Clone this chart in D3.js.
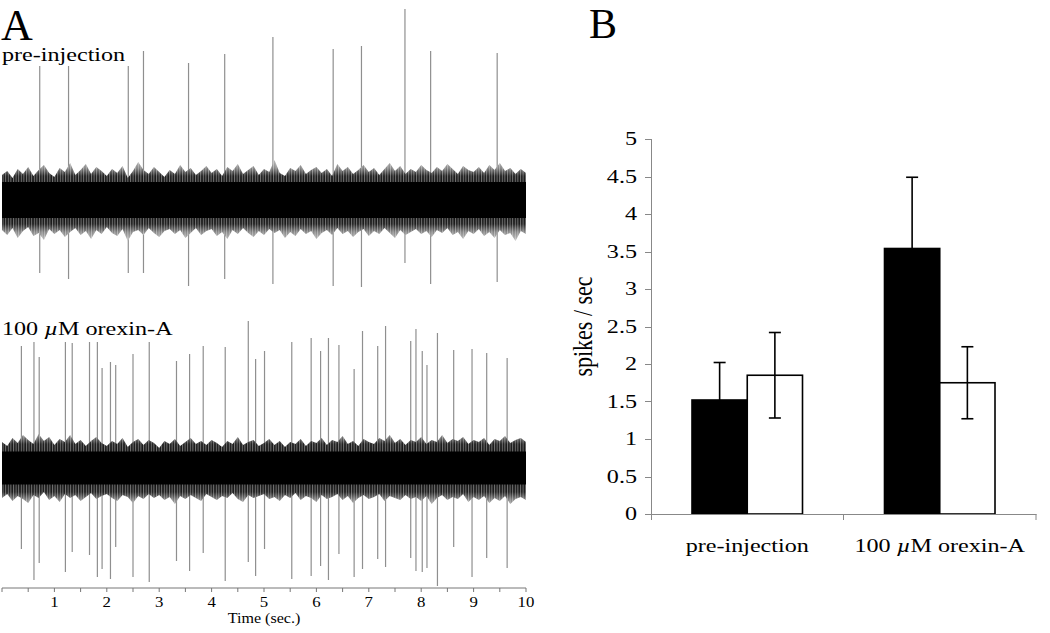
<!DOCTYPE html>
<html><head><meta charset="utf-8">
<script src="https://cdn.jsdelivr.net/npm/d3@7"></script>
<style>
body{margin:0;background:#fff}
svg{display:block}
text{font-family:"Liberation Serif","Times New Roman",serif;fill:#000}
</style>
</head><body>
<svg id="c" width="1050" height="633"></svg>
<script>
// ---------- Panel A data (time in s, amplitude in arbitrary units) ----------
const traceLabels = ["pre-injection", "100 µM orexin-A"];
const spikeTimesPre = [0.72,1.27,2.41,2.70,3.56,4.25,5.17,6.32,6.86,7.69,8.18,9.45];
const spikeUpPre    = [1.34,1.34,1.34,1.49,1.37,1.46,1.63,1.51,1.54,1.91,1.49,1.47];
const spikeDownPre  = [-0.73,-0.79,-0.73,-0.73,-0.86,-0.79,-0.84,-0.86,-0.87,-0.63,-0.84,-0.82];

const spikeTimesOrx = [0.37,0.61,0.71,1.21,1.34,1.67,1.82,1.91,2.07,2.17,2.50,2.81,3.33,3.58,3.84,4.26,4.70,4.84,5.01,5.53,5.90,6.08,6.23,6.43,6.72,6.88,7.17,7.32,7.80,7.90,8.02,8.11,8.31,8.62,8.97,9.25,9.64];
const spikeUpOrx    = [1.22,1.26,1.11,1.26,1.25,1.26,1.26,1.00,1.06,1.03,1.14,1.26,1.07,1.14,1.22,1.21,1.47,1.09,1.17,1.26,1.30,1.17,1.30,1.23,0.99,1.37,1.22,1.42,1.27,1.39,1.17,1.03,1.35,1.18,1.19,1.15,1.10];
const spikeDownOrx  = [-0.81,-1.12,-0.95,-1.04,-0.84,-0.87,-1.09,-1.01,-1.11,-0.79,-1.09,-1.14,-0.93,-1.03,-0.85,-1.13,-0.94,-1.08,-0.81,-1.11,-1.08,-0.98,-1.12,-0.86,-1.09,-1.01,-0.91,-0.99,-0.90,-1.03,-1.04,-1.00,-1.18,-0.79,-1.09,-0.90,-1.00];

// background-noise envelope, sampled every 0.1 s
const noiseTimes = [0,0.1,0.2,0.3,0.4,0.5,0.6,0.7,0.8,0.9,1,1.1,1.2,1.3,1.4,1.5,1.6,1.7,1.8,1.9,2,2.1,2.2,2.3,2.4,2.5,2.6,2.7,2.8,2.9,3,3.1,3.2,3.3,3.4,3.5,3.6,3.7,3.8,3.9,4,4.1,4.2,4.3,4.4,4.5,4.6,4.7,4.8,4.9,5,5.1,5.2,5.3,5.4,5.5,5.6,5.7,5.8,5.9,6,6.1,6.2,6.3,6.4,6.5,6.6,6.7,6.8,6.9,7,7.1,7.2,7.3,7.4,7.5,7.6,7.7,7.8,7.9,8,8.1,8.2,8.3,8.4,8.5,8.6,8.7,8.8,8.9,9,9.1,9.2,9.3,9.4,9.5,9.6,9.7,9.8,9.9,10];
const noiseUpPre = [0.25,0.29,0.22,0.31,0.26,0.33,0.24,0.30,0.35,0.27,0.23,0.32,0.28,0.37,0.25,0.30,0.36,0.26,0.33,0.29,0.24,0.31,0.27,0.34,0.22,0.29,0.38,0.30,0.26,0.33,0.28,0.23,0.30,0.26,0.35,0.28,0.32,0.25,0.29,0.34,0.27,0.31,0.24,0.33,0.29,0.36,0.26,0.30,0.34,0.25,0.31,0.28,0.40,0.27,0.24,0.32,0.29,0.35,0.26,0.30,0.33,0.27,0.31,0.24,0.36,0.29,0.33,0.26,0.30,0.35,0.28,0.32,0.25,0.31,0.37,0.29,0.34,0.26,0.31,0.28,0.35,0.30,0.27,0.33,0.29,0.36,0.31,0.26,0.34,0.30,0.28,0.33,0.27,0.35,0.30,0.37,0.29,0.32,0.26,0.31,0.27];
const noiseDownPre = [0.30,0.35,0.28,0.38,0.31,0.27,0.36,0.33,0.40,0.29,0.34,0.30,0.37,0.32,0.28,0.35,0.31,0.39,0.30,0.34,0.27,0.33,0.36,0.29,0.41,0.32,0.30,0.35,0.28,0.33,0.37,0.31,0.29,0.34,0.30,0.38,0.33,0.28,0.35,0.31,0.29,0.36,0.32,0.39,0.30,0.34,0.28,0.33,0.37,0.31,0.35,0.29,0.33,0.30,0.38,0.32,0.36,0.29,0.34,0.31,0.39,0.33,0.30,0.35,0.28,0.34,0.31,0.37,0.32,0.29,0.36,0.31,0.34,0.28,0.33,0.38,0.30,0.35,0.32,0.29,0.34,0.31,0.37,0.30,0.33,0.28,0.35,0.32,0.39,0.31,0.34,0.29,0.36,0.32,0.38,0.30,0.35,0.33,0.41,0.31,0.34];
const noiseUpOrx = [0.26,0.22,0.30,0.25,0.33,0.28,0.24,0.34,0.27,0.31,0.23,0.29,0.26,0.33,0.24,0.28,0.22,0.27,0.31,0.25,0.22,0.27,0.24,0.30,0.21,0.26,0.29,0.23,0.28,0.25,0.20,0.27,0.24,0.29,0.22,0.26,0.30,0.24,0.27,0.23,0.28,0.25,0.21,0.27,0.24,0.31,0.23,0.26,0.28,0.22,0.25,0.29,0.23,0.27,0.21,0.26,0.24,0.29,0.22,0.27,0.25,0.30,0.23,0.28,0.26,0.32,0.24,0.27,0.22,0.29,0.26,0.24,0.30,0.27,0.33,0.25,0.29,0.23,0.28,0.26,0.31,0.24,0.28,0.26,0.33,0.25,0.29,0.27,0.31,0.24,0.28,0.26,0.30,0.23,0.29,0.27,0.32,0.25,0.28,0.30,0.26];
const noiseDownOrx = [0.30,0.26,0.33,0.28,0.31,0.35,0.27,0.30,0.24,0.32,0.28,0.34,0.26,0.30,0.27,0.33,0.29,0.25,0.31,0.28,0.26,0.30,0.33,0.27,0.29,0.35,0.28,0.31,0.26,0.30,0.27,0.32,0.29,0.36,0.28,0.31,0.27,0.30,0.33,0.26,0.29,0.32,0.28,0.30,0.25,0.31,0.34,0.27,0.30,0.28,0.26,0.31,0.29,0.33,0.27,0.30,0.25,0.32,0.28,0.30,0.34,0.27,0.31,0.29,0.26,0.32,0.28,0.35,0.30,0.27,0.31,0.29,0.26,0.33,0.28,0.30,0.32,0.27,0.31,0.29,0.33,0.28,0.36,0.30,0.27,0.32,0.29,0.31,0.26,0.34,0.29,0.32,0.28,0.35,0.30,0.33,0.28,0.36,0.31,0.29,0.32];
const noiseCorePre = 0.18;
const noiseCoreOrx = 0.165;

const timeTicks = [0,0.5,1,1.5,2,2.5,3,3.5,4,4.5,5,5.5,6,6.5,7,7.5,8,8.5,9,9.5,10];
const timeTickLabels = [1,2,3,4,5,6,7,8,9,10];

// ---------- Panel B data ----------
const groups = ["pre-injection", "100 µM orexin-A"];
const seriesKeys = ["filled", "open"];
const filledMeans = [1.52, 3.54];
const filledErr   = [0.50, 0.95];
const openMeans   = [1.85, 1.75];
const openErr     = [0.57, 0.48];
const rateTicks = [0,0.5,1,1.5,2,2.5,3,3.5,4,4.5,5];
const rateTickLabels = ["0","0.5","1","1.5","2","2.5","3","3.5","4","4.5","5"];

// ---------- drawing ----------
const svg = d3.select("#c");
const SX = 1.34; // horizontal stretch of the figure's small text

function stext(g, x, y, str, size, anchor, sx) {
  return g.append("text")
    .attr("transform", `translate(${x},${y}) scale(${sx||SX},1)`)
    .attr("font-size", size).attr("text-anchor", anchor || "start")
    .text(str);
}
function orexinLabel(g, x, y, size, anchor) {
  const t = g.append("text")
    .attr("transform", `translate(${x},${y}) scale(${SX},1)`)
    .attr("font-size", size).attr("text-anchor", anchor || "start");
  t.append("tspan").text("100 ");
  t.append("tspan").attr("font-style", "italic").text("µ");
  t.append("tspan").text("M orexin-A");
  return t;
}

// Panel A
const gA = svg.append("g");
const tx = d3.scaleLinear().domain([0, 10]).range([2, 526]);
const yPre = d3.scaleLinear().domain([-1, 1]).range([300, 100]);
const yOrx = d3.scaleLinear().domain([-1, 1]).range([568, 368]);

const defs = svg.append("defs");
const pat = defs.append("pattern").attr("id", "streaks").attr("patternUnits", "userSpaceOnUse")
  .attr("width", 2.6).attr("height", 10);
pat.append("rect").attr("width", 1).attr("height", 10).attr("fill", "#fff").attr("fill-opacity", 0.4);

function makeGrad(id, y) {
  const gr = defs.append("linearGradient").attr("id", id).attr("gradientUnits", "userSpaceOnUse")
    .attr("x1", 0).attr("x2", 0).attr("y1", y(0.42)).attr("y2", y(-0.42));
  const lv = [[0.42, "#c8c8c8"], [0.32, "#858585"], [0.24, "#1c1c1c"], [0, "#000"], [-0.24, "#1c1c1c"], [-0.32, "#858585"], [-0.42, "#c8c8c8"]];
  lv.forEach(([a, c]) => gr.append("stop").attr("offset", (0.42 - a) / 0.84).attr("stop-color", c));
}
makeGrad("gPre", yPre);
makeGrad("gOrx", yOrx);

function drawTrace(y, gradId, times, ups, downs, nUp, nDown, core) {
  const g = gA.append("g");
  g.selectAll("line.spk").data(times).join("line").attr("class", "spk")
    .attr("x1", d => tx(d)).attr("x2", d => tx(d))
    .attr("y1", (d, i) => y(ups[i])).attr("y2", (d, i) => y(downs[i]))
    .attr("stroke", "#8f8f8f").attr("stroke-width", 1.2);
  const area = d3.area().x((d, i) => tx(noiseTimes[i]))
    .y0((d, i) => y(-nDown[i])).y1((d, i) => y(nUp[i]));
  g.append("path").datum(noiseTimes).attr("d", area).attr("fill", `url(#${gradId})`);
  g.append("path").datum(noiseTimes).attr("d", area).attr("fill", "url(#streaks)");
  const coreArea = d3.area().x(d => tx(d)).y0(y(-core)).y1(y(core));
  g.append("path").datum([0, 10]).attr("d", coreArea).attr("fill", "#000");
}
drawTrace(yPre, "gPre", spikeTimesPre, spikeUpPre, spikeDownPre, noiseUpPre, noiseDownPre, noiseCorePre);
drawTrace(yOrx, "gOrx", spikeTimesOrx, spikeUpOrx, spikeDownOrx, noiseUpOrx, noiseDownOrx, noiseCoreOrx);

gA.append("text").attr("x", 1).attr("y", 39.5).attr("font-size", 44).text("A");
stext(gA, 2, 61, traceLabels[0], 18);
orexinLabel(gA, 2, 335, 18);

// time axis
const axY = 588;
gA.append("line").attr("x1", tx(0)).attr("x2", tx(10)).attr("y1", axY).attr("y2", axY)
  .attr("stroke", "#777").attr("stroke-width", 1);
gA.selectAll("line.tt").data(timeTicks).join("line").attr("class", "tt")
  .attr("x1", d => tx(d)).attr("x2", d => tx(d)).attr("y1", axY).attr("y2", axY + 4)
  .attr("stroke", "#777").attr("stroke-width", 1);
timeTickLabels.forEach(v => stext(gA, tx(v), 607, String(v), 14, "middle", 1.2));
stext(gA, tx(5), 623, "Time (sec.)", 14, "middle", 1.15);

// Panel B
const gB = svg.append("g");
gB.append("text").attr("x", 589).attr("y", 37.5).attr("font-size", 42).text("B");
const y = d3.scaleLinear().domain([0, 5]).range([514, 139]);
const x0 = d3.scaleBand().domain(groups).range([651, 1036]);
const x1 = d3.scaleBand().domain(seriesKeys).range([0, x0.bandwidth()]).paddingInner(0).paddingOuter(0.742);

const rows = groups.map((g, i) => ({
  group: g,
  vals: [
    {key: "filled", mean: filledMeans[i], err: filledErr[i]},
    {key: "open", mean: openMeans[i], err: openErr[i]}
  ]
}));

const axColor = "#888";
gB.append("line").attr("x1", 651.5).attr("x2", 651.5).attr("y1", y(5)).attr("y2", y(0) + 6)
  .attr("stroke", axColor);
gB.selectAll("line.yt").data(rateTicks).join("line").attr("class", "yt")
  .attr("x1", 645).attr("x2", 651.5).attr("y1", d => Math.round(y(d)) + 0.5).attr("y2", d => Math.round(y(d)) + 0.5)
  .attr("stroke", axColor);
rateTicks.forEach((v, i) => stext(gB, 637, y(v) + 6, rateTickLabels[i], 18, "end"));

const grp = gB.selectAll("g.grp").data(rows).join("g").attr("class", "grp")
  .attr("transform", d => `translate(${x0(d.group)},0)`);
grp.selectAll("rect").data(d => d.vals).join("rect")
  .attr("x", d => x1(d.key)).attr("width", x1.bandwidth())
  .attr("y", d => y(d.mean)).attr("height", d => y(0) - y(d.mean))
  .attr("fill", d => d.key === "filled" ? "#000" : "#fff")
  .attr("stroke", "#000").attr("stroke-width", 1.6);
grp.each(function(d) {
  const g = d3.select(this);
  d.vals.forEach(v => {
    const cx = x1(v.key) + x1.bandwidth() / 2;
    const top = y(v.mean + v.err);
    const bot = v.key === "filled" ? y(v.mean) : y(v.mean - v.err);
    g.append("line").attr("x1", cx).attr("x2", cx).attr("y1", top).attr("y2", bot)
      .attr("stroke", "#000").attr("stroke-width", 1.6);
    g.append("line").attr("x1", cx - 6).attr("x2", cx + 6).attr("y1", top).attr("y2", top)
      .attr("stroke", "#000").attr("stroke-width", 1.6);
    if (v.key === "open")
      g.append("line").attr("x1", cx - 6).attr("x2", cx + 6).attr("y1", bot).attr("y2", bot)
        .attr("stroke", "#000").attr("stroke-width", 1.6);
  });
});

gB.append("line").attr("x1", 651).attr("x2", 1036.5).attr("y1", Math.round(y(0)) + 0.5).attr("y2", Math.round(y(0)) + 0.5)
  .attr("stroke", axColor);
[651.5, x0(groups[1]), 1036].forEach(xv => gB.append("line")
  .attr("x1", xv).attr("x2", xv).attr("y1", y(0)).attr("y2", y(0) + 6).attr("stroke", axColor));
stext(gB, x0(groups[0]) + x0.bandwidth() / 2, 552, groups[0], 18, "middle");
orexinLabel(gB, x0(groups[1]) + x0.bandwidth() / 2, 552, 18, "middle");

// y-axis title, centred on the plot area
gB.append("text")
  .attr("transform", `translate(592,${(y(0) + y(5)) / 2}) rotate(-90) scale(1,1.2)`)
  .attr("font-size", 22).attr("text-anchor", "middle").text("spikes / sec");
</script>
</body></html>
